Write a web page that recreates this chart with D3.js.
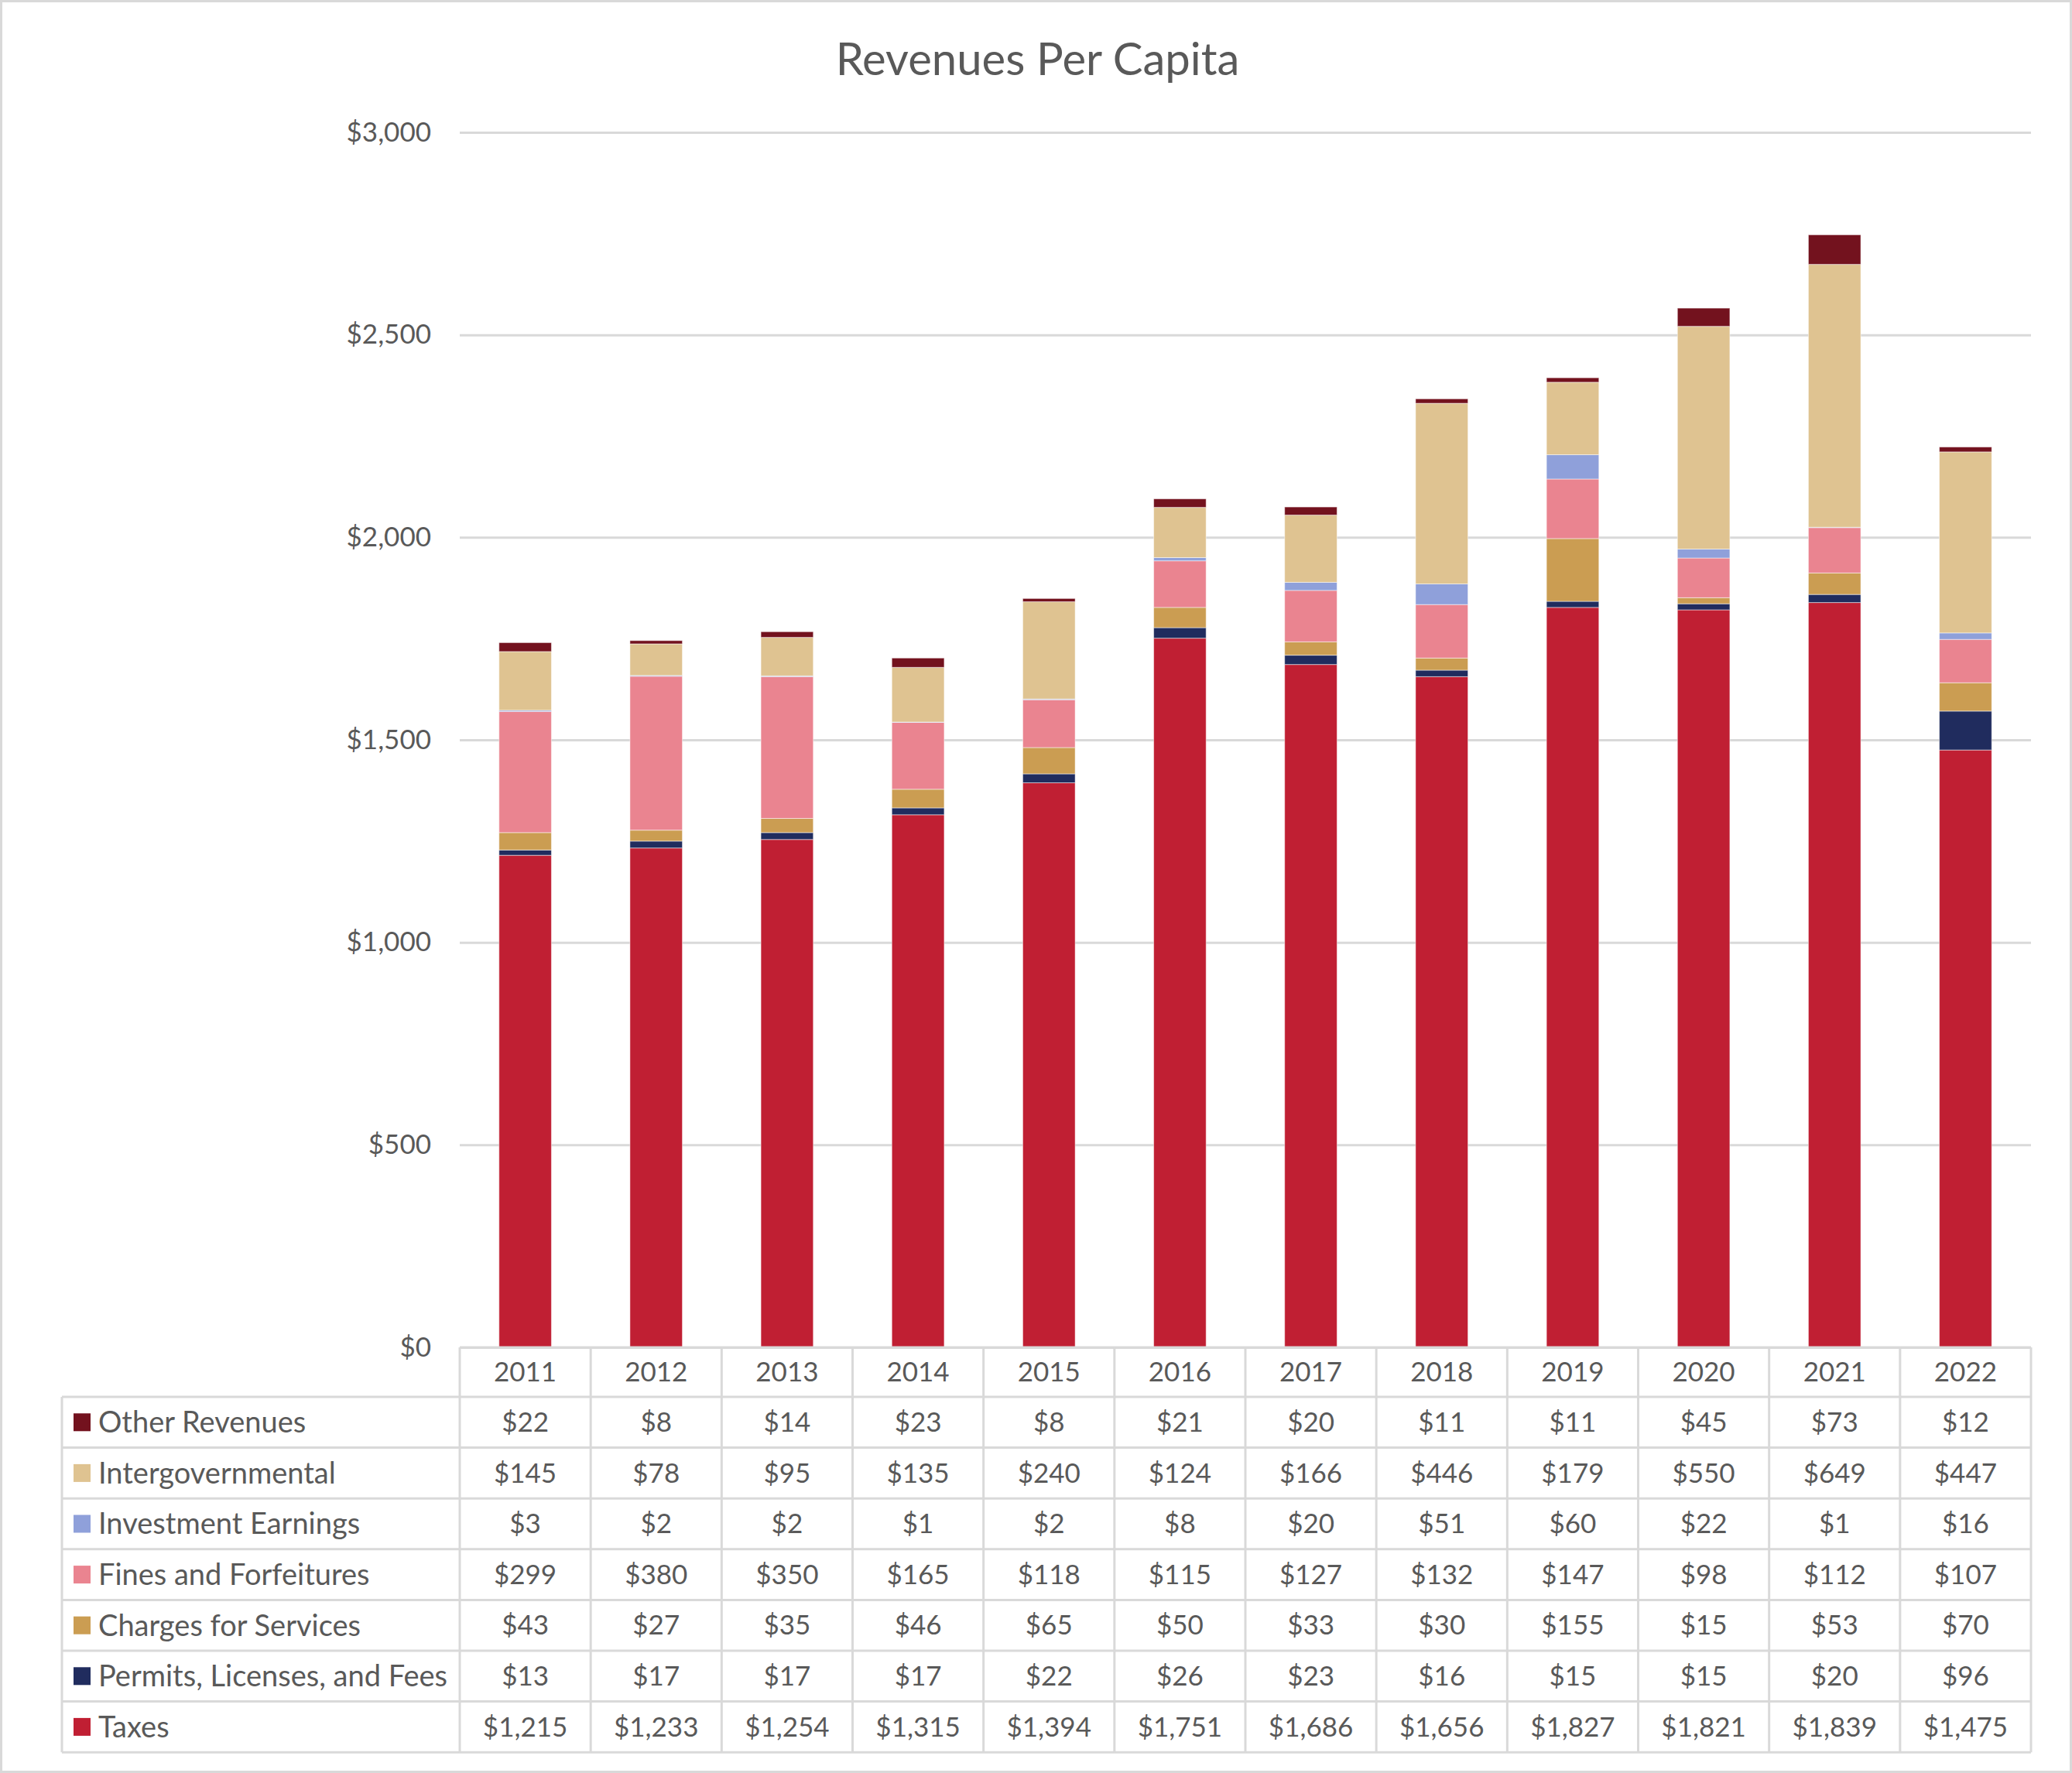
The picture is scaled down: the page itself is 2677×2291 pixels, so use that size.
<!DOCTYPE html>
<html lang="en">
<head>
<meta charset="utf-8">
<title>Revenues Per Capita</title>
<script src="https://d3js.org/d3.v7.min.js"></script>
<style>
  body { margin: 0; background: #fff; }
  text { font-family: Lato, "Open Sans", sans-serif; fill: #595959; }
  .grid line { stroke: #d9d9d9; stroke-width: 3; }
  .grid .domain { display: none; }
</style>
</head>
<body>
<script>
// Data
var years = ["2011","2012","2013","2014","2015","2016","2017","2018","2019","2020","2021","2022"];
// stack order, bottom to top
var seriesNames = ["Taxes", "Permits, Licenses, and Fees", "Charges for Services",
  "Fines and Forfeitures", "Investment Earnings", "Intergovernmental", "Other Revenues"];
var taxes       = [1215, 1233, 1254, 1315, 1394, 1751, 1686, 1656, 1827, 1821, 1839, 1475];
var permits     = [13, 17, 17, 17, 22, 26, 23, 16, 15, 15, 20, 96];
var charges     = [43, 27, 35, 46, 65, 50, 33, 30, 155, 15, 53, 70];
var fines       = [299, 380, 350, 165, 118, 115, 127, 132, 147, 98, 112, 107];
var investment  = [3, 2, 2, 1, 2, 8, 20, 51, 60, 22, 1, 16];
var intergov    = [145, 78, 95, 135, 240, 124, 166, 446, 179, 550, 649, 447];
var other       = [22, 8, 14, 23, 8, 21, 20, 11, 11, 45, 73, 12];
var yTicks = [0, 500, 1000, 1500, 2000, 2500, 3000];

var seriesValues = [taxes, permits, charges, fines, investment, intergov, other];
var colors = ["#c01f33", "#202c5e", "#cb9d52", "#ea8490", "#8fa0da", "#dfc391", "#73121e"];

var w = 2677, h = 2291;
var plotLeft = 594, plotRight = 2624, plotTop = 171, plotBottom = 1741;
var rowH = 65.6, headH = 64, legendLeft = 80;

var rows = years.map(function(yr, i) {
  var r = { year: yr };
  seriesNames.forEach(function(s, k) { r[s] = seriesValues[k][i]; });
  return r;
});

var stacked = d3.stack().keys(seriesNames)(rows);

var xCol = d3.scaleBand().domain(years).range([plotLeft, plotRight]);
var xBar = d3.scaleBand().domain(years).range([plotLeft, plotRight]).paddingInner(0.6).paddingOuter(0.3);
var y = d3.scaleLinear().domain([0, 3000]).range([plotBottom, plotTop]);
var color = d3.scaleOrdinal().domain(seriesNames).range(colors);

var svg = d3.select("body").append("svg")
  .attr("width", w).attr("height", h);

svg.append("rect")
  .attr("x", 1.5).attr("y", 1.5)
  .attr("width", w - 3).attr("height", h - 3)
  .attr("fill", "#fff").attr("stroke", "#d9d9d9").attr("stroke-width", 3);

// title
svg.append("text")
  .attr("x", w / 2 + 2)
  .attr("y", 77)
  .attr("dy", "0.35em")
  .attr("text-anchor", "middle")
  .style("font-size", "58px")
  .text("Revenues Per Capita");

// gridlines + y labels
var yAxis = d3.axisLeft(y)
  .tickValues(yTicks)
  .tickSize(-(plotRight - plotLeft))
  .tickPadding(37)
  .tickFormat(function(d) { return "$" + d3.format(",")(d); });

svg.append("g")
  .attr("class", "grid")
  .attr("transform", "translate(" + plotLeft + ",0)")
  .call(yAxis)
  .selectAll("text")
  .style("font-size", "35px");

// bars
svg.append("g").selectAll("g")
  .data(stacked)
  .enter().append("g")
  .attr("fill", function(d) { return color(d.key); })
  .selectAll("rect")
  .data(function(d) { return d; })
  .enter().append("rect")
  .attr("x", function(d) { return xBar(d.data.year); })
  .attr("width", xBar.bandwidth())
  .attr("y", function(d) { return y(d[1]); })
  .attr("height", function(d) { return y(d[0]) - y(d[1]); })
  .attr("stroke", "#fff")
  .attr("stroke-opacity", 0.5)
  .attr("stroke-width", 1);

// data table
var table = svg.append("g");
var tableRows = seriesNames.slice().reverse();
var tableTop = plotBottom + headH;
var tableBottom = tableTop + rowH * tableRows.length;

function hline(x1, x2, yy) {
  table.append("line").attr("x1", x1).attr("x2", x2).attr("y1", yy).attr("y2", yy)
    .attr("stroke", "#d9d9d9").attr("stroke-width", 3);
}
function vline(xx, y1, y2) {
  table.append("line").attr("x1", xx).attr("x2", xx).attr("y1", y1).attr("y2", y2)
    .attr("stroke", "#d9d9d9").attr("stroke-width", 3);
}

hline(plotLeft, plotRight, plotBottom);
for (var r = 0; r <= tableRows.length; r++) {
  hline(legendLeft, plotRight, tableTop + r * rowH);
}
vline(legendLeft, tableTop, tableBottom);
years.forEach(function(yr) { vline(xCol(yr), plotBottom, tableBottom); });
vline(plotRight, plotBottom, tableBottom);

// header years
table.selectAll(".yr")
  .data(years)
  .enter().append("text")
  .attr("x", function(d) { return xCol(d) + xCol.bandwidth() / 2; })
  .attr("y", plotBottom + headH / 2)
  .attr("dy", "0.35em")
  .attr("text-anchor", "middle")
  .style("font-size", "35px")
  .text(function(d) { return d; });

tableRows.forEach(function(name, r) {
  var cy = tableTop + r * rowH + rowH / 2;
  var vals = seriesValues[seriesNames.indexOf(name)];
  table.append("rect")
    .attr("x", 95).attr("y", cy - 11.5)
    .attr("width", 22).attr("height", 23)
    .attr("fill", color(name));
  table.append("text")
    .attr("x", 127).attr("y", cy)
    .attr("dy", "0.35em")
    .style("font-size", "38px")
    .text(name);
  table.selectAll(null)
    .data(vals)
    .enter().append("text")
    .attr("x", function(d, i) { return xCol(years[i]) + xCol.bandwidth() / 2; })
    .attr("y", cy)
    .attr("dy", "0.35em")
    .attr("text-anchor", "middle")
    .style("font-size", "35px")
    .text(function(d) { return "$" + d3.format(",")(d); });
});
</script>
</body>
</html>
